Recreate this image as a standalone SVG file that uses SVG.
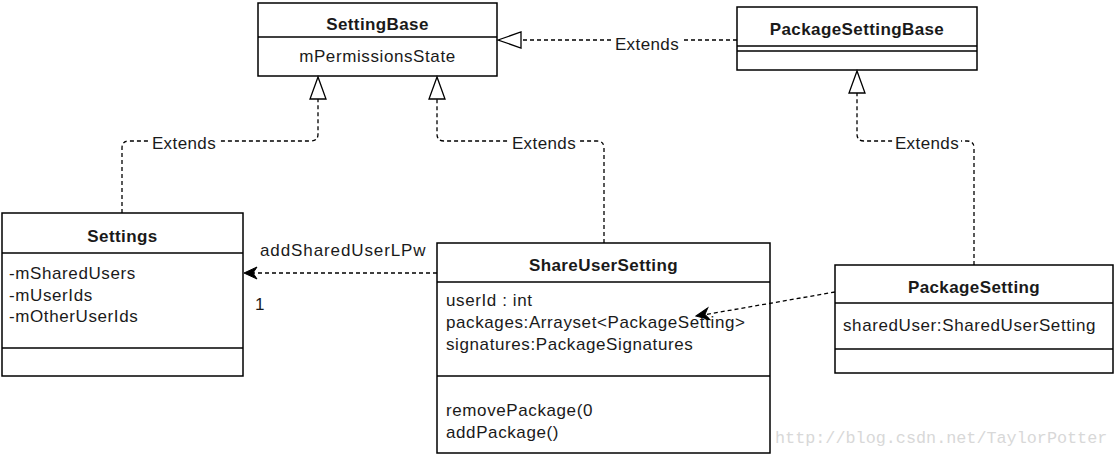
<svg xmlns="http://www.w3.org/2000/svg" width="1116" height="456" viewBox="0 0 1116 456">
<style>
.box{fill:#fff;stroke:#000;stroke-width:1.5}
.ln{stroke:#000;stroke-width:1.5;fill:none}
.dash{stroke:#000;stroke-width:1.3;fill:none;stroke-dasharray:4,3}
.tri{fill:#fff;stroke:#000;stroke-width:1.3}
.t{font-family:"Liberation Sans",Arial,sans-serif;font-size:17px;fill:#1a1a1a;letter-spacing:0.6px}
.b{font-weight:bold;text-anchor:middle;letter-spacing:0.4px}
.lbl{font-family:"Liberation Sans",Arial,sans-serif;font-size:17px;fill:#1a1a1a;letter-spacing:0.4px}
.wm{font-family:"Liberation Mono","DejaVu Sans Mono",monospace;font-size:16.8px;fill:#d8d8d8}
</style>
<rect width="1116" height="456" fill="#fff"/>
<g id="SettingBase">
  <rect class="box" x="258" y="3" width="239" height="73"/>
  <line class="ln" x1="258" y1="37" x2="497" y2="37"/>
  <text class="t b" x="377.5" y="30">SettingBase</text>
  <text class="t" x="377.5" y="62" text-anchor="middle">mPermissionsState</text>
</g>
<g id="PackageSettingBase">
  <rect class="box" x="737" y="7" width="240" height="63"/>
  <line class="ln" x1="737" y1="46" x2="977" y2="46"/>
  <line class="ln" x1="737" y1="51" x2="977" y2="51"/>
  <text class="t b" x="857" y="35">PackageSettingBase</text>
</g>
<g id="Settings">
  <rect class="box" x="2" y="213" width="241" height="163"/>
  <line class="ln" x1="2" y1="253" x2="243" y2="253"/>
  <line class="ln" x1="2" y1="348" x2="243" y2="348"/>
  <text class="t b" x="122.5" y="242">Settings</text>
  <text class="t" x="9" y="279">-mSharedUsers</text>
  <text class="t" x="9" y="301">-mUserIds</text>
  <text class="t" x="9" y="322">-mOtherUserIds</text>
</g>
<g id="ShareUserSetting">
  <rect class="box" x="437" y="243" width="333" height="210"/>
  <line class="ln" x1="437" y1="282" x2="770" y2="282"/>
  <line class="ln" x1="437" y1="376" x2="770" y2="376"/>
  <text class="t b" x="603.5" y="271">ShareUserSetting</text>
  <text class="t" x="446" y="306">userId : int</text>
  <text class="t" x="446" y="328">packages:Arrayset&lt;PackageSetting&gt;</text>
  <text class="t" x="446" y="350">signatures:PackageSignatures</text>
  <text class="t" x="446" y="416">removePackage(0</text>
  <text class="t" x="446" y="438">addPackage()</text>
</g>
<g id="PackageSetting">
  <rect class="box" x="835" y="265" width="278" height="108"/>
  <line class="ln" x1="835" y1="303" x2="1113" y2="303"/>
  <line class="ln" x1="835" y1="349" x2="1113" y2="349"/>
  <text class="t b" x="974" y="293">PackageSetting</text>
  <text class="t" x="843" y="331">sharedUser:SharedUserSetting</text>
</g>
<g id="connectors">
  <path class="dash" d="M737,40 H521"/>
  <polygon class="tri" points="498,40 521,32 521,48"/>
  <rect x="612" y="32" width="70" height="18" fill="#fff"/>
  <text class="lbl" x="647" y="50" text-anchor="middle">Extends</text>
  <path class="dash" d="M122,213 V148 Q122,141 129,141 H311 Q318,141 318,134 V99"/>
  <polygon class="tri" points="318,77 310,99 326,99"/>
  <rect x="150" y="134" width="68" height="18" fill="#fff"/>
  <text class="lbl" x="184" y="149" text-anchor="middle">Extends</text>
  <path class="dash" d="M604,243 V148 Q604,141 597,141 H444 Q437,141 437,134 V99"/>
  <polygon class="tri" points="437,77 429,99 445,99"/>
  <rect x="510" y="134" width="68" height="18" fill="#fff"/>
  <text class="lbl" x="544" y="149" text-anchor="middle">Extends</text>
  <path class="dash" d="M974,265 V148 Q974,141 967,141 H864 Q857,141 857,134 V93"/>
  <polygon class="tri" points="857,71 849,93 865,93"/>
  <rect x="893" y="134" width="68" height="18" fill="#fff"/>
  <text class="lbl" x="927" y="149" text-anchor="middle">Extends</text>
  <path class="dash" d="M437,273 H250"/>
  <path d="M244,273 L257,267 L253,273 L257,279 Z" fill="#000" stroke="#000" stroke-width="1"/>
  <text class="lbl" x="260" y="256" textLength="166" lengthAdjust="spacing">addSharedUserLPw</text>
  <text class="lbl" x="255" y="310">1</text>
  <path class="dash" d="M835,292 L703,315"/>
  <path d="M696,316 L709,310 L705,316 L709,322 Z" fill="#000" stroke="#000" stroke-width="1" transform="rotate(-10 696 316)"/>
</g>
<text class="wm" x="775" y="443">http://blog.csdn.net/TaylorPotter</text>
</svg>
